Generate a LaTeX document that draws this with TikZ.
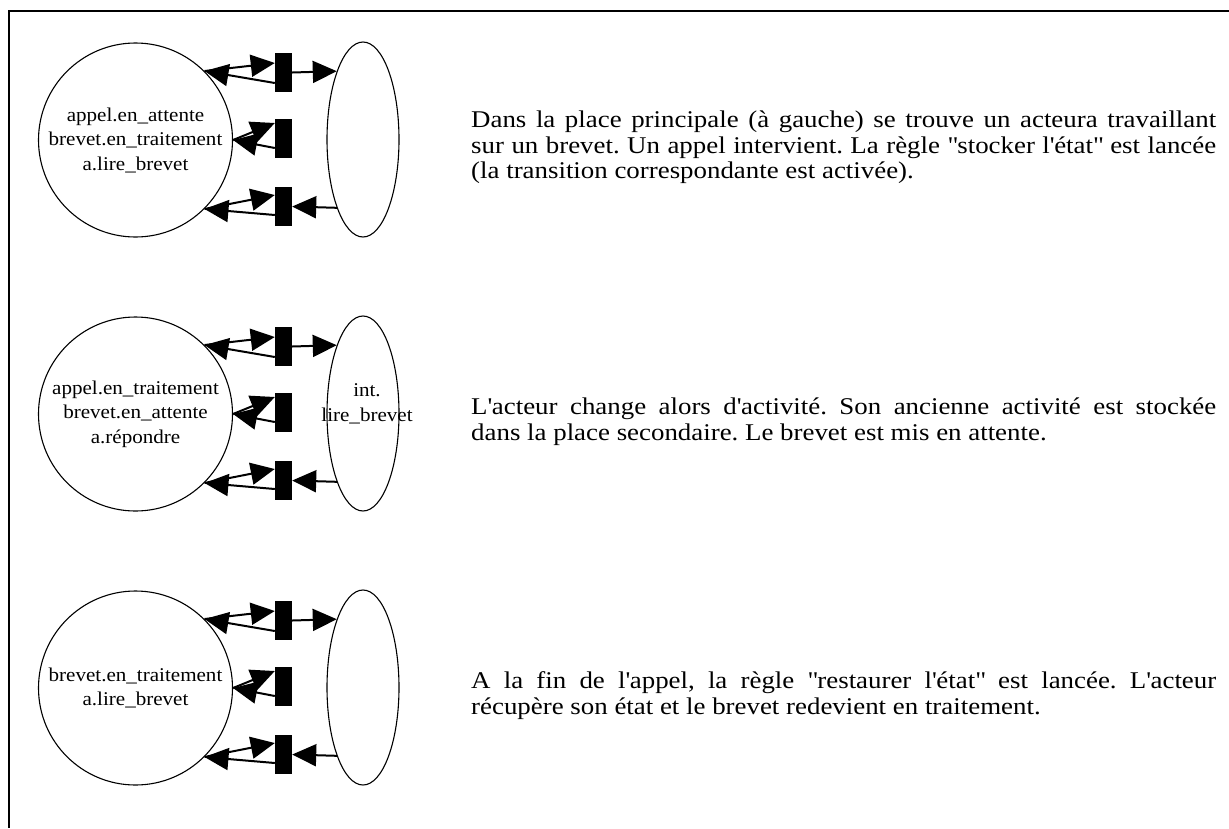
\documentclass[tikz,border=0pt]{standalone}
\usepackage{fontspec}
\setmainfont{Liberation Serif}
\newfontfamily\descfont{Liberation Serif}[FakeStretch=1.12]
\newfontfamily\lblfont{Liberation Serif}[FakeStretch=1.08]
\usetikzlibrary{arrows.meta,shapes.geometric}
\newcommand{\aq}{\textquotesingle}
\newcommand{\dq}{\textquotedbl}
\frenchspacing
\begin{document}
\begin{tikzpicture}[x=1pt,y=-1pt,
  place/.style={draw, circle, minimum size=194pt, inner sep=0pt, line width=1.1pt},
  sec/.style={draw, ellipse, minimum width=72pt, minimum height=195pt, inner sep=0pt, line width=1.1pt},
  lbl/.style={inner sep=0pt, font=\lblfont\fontsize{19.5}{24.5}\selectfont, align=center},
  trans/.style={fill=black, minimum width=17pt, minimum height=39pt, inner sep=0pt},
  arc/.style={line width=2pt, -{Triangle[length=24pt,width=22pt]}},
  desc/.style={anchor=base west, inner sep=0pt, font=\descfont\fontsize{24}{25.5}\selectfont},
  frame/.style={line width=2.5pt}]
\useasboundingbox (0,0) rectangle (1229,828);
\draw[frame] (1229,11) -- (9,11) -- (9,828);

\foreach \i/\dy in {1/0,2/274,3/548}{
  \node[place] (P\i) at (135.5,140+\dy) {};
  \node[sec] (S\i) at (363,139.5+\dy) {};
  \node[trans] (Ta\i) at (283.5,72.5+\dy) {};
  \node[trans] (Tb\i) at (283.5,138.5+\dy) {};
  \node[trans] (Tc\i) at (283.5,206.5+\dy) {};
  \draw[arc] (P\i.45) -- ([yshift=9.5pt]Ta\i.west);
  \draw[arc] ([yshift=-10.5pt]Ta\i.west) -- (P\i.45);
  \draw[arc] (Ta\i.east) -- (S\i.111);
  \draw[arc] (P\i.east) -- ([yshift=15.5pt]Tb\i.west);
  \draw[arc] ([yshift=-9.5pt]Tb\i.west) -- (P\i.east);
  \draw[arc] (P\i.-45) -- ([yshift=11.5pt]Tc\i.west);
  \draw[arc] ([yshift=-8.5pt]Tc\i.west) -- (P\i.-45);
  \draw[arc] (S\i.-111) -- (Tc\i.east);
}

\node[lbl] (L1) at (P1) {appel.en\_attente\\brevet.en\_traitement\\a.lire\_brevet};
\node[lbl] (L2) at (P2) {appel.en\_traitement\\brevet.en\_attente\\a.répondre};
\node[lbl] (L3) at (P3) {brevet.en\_traitement\\a.lire\_brevet};
\node[lbl] (I2) at (367,404) {int.\\lire\_brevet};

\node[desc] (d1a) at (471,127.5) {\makebox[745pt][s]{Dans la place principale (à gauche) se trouve un acteura travaillant}};
\node[desc] (d1b) at (471,153) {\makebox[745pt][s]{sur un brevet. Un appel intervient. La règle \dq stocker l\aq état\dq{} est lancée}};
\node[desc] (d1c) at (471,178.5) {(la transition correspondante est activée).};

\node[desc] (d2a) at (471,414.5) {\makebox[745pt][s]{L\aq acteur change alors d\aq activité. Son ancienne activité est stockée}};
\node[desc] (d2b) at (471,440) {dans la place secondaire. Le brevet est mis en attente.};

\node[desc] (d3a) at (471,688.5) {\makebox[745pt][s]{A la fin de l\aq appel, la règle \dq restaurer l\aq état\dq{} est lancée. L\aq acteur}};
\node[desc] (d3b) at (471,714) {récupère son état et le brevet redevient en traitement.};
\end{tikzpicture}
\end{document}
